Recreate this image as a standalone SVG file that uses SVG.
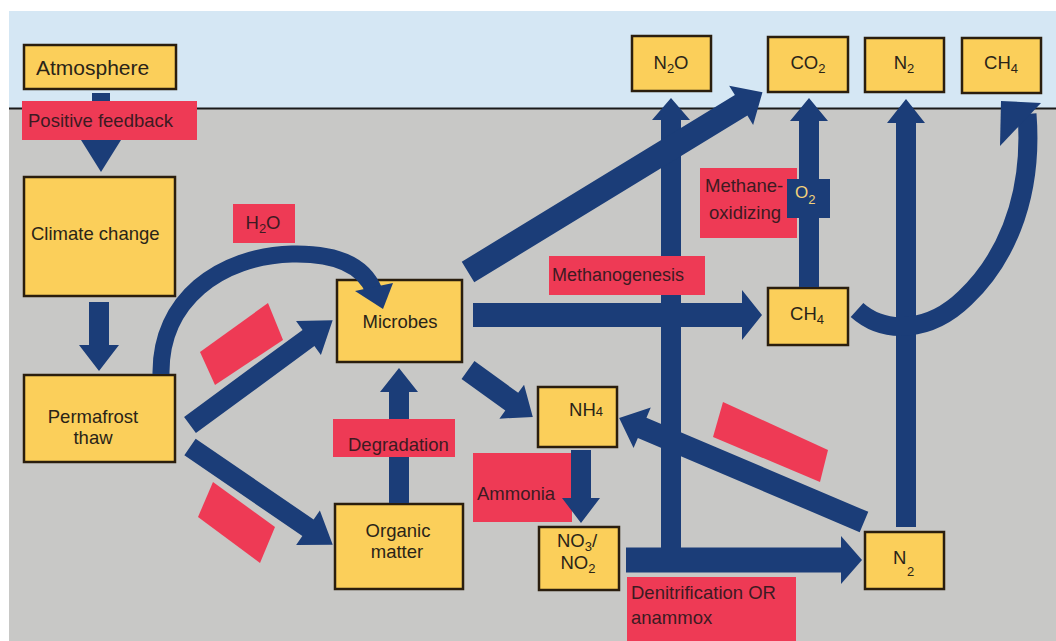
<svg xmlns="http://www.w3.org/2000/svg" width="1056" height="641" viewBox="0 0 1056 641">
<style>
.box{fill:#fbcf5a;stroke:#2a1e0e;stroke-width:2.5}
.red{fill:#ee3a55}
.arr{fill:#1b3d78}
.arc{fill:none;stroke:#1b3d78}
.t{font-family:"Liberation Sans",Arial,sans-serif;font-size:18.5px;fill:#2a2418}
.rt{font-family:"Liberation Sans",Arial,sans-serif;font-size:18.5px;fill:#3d1a22}
.c{text-anchor:middle}
.sub{font-size:13px}
</style>
<rect x="0" y="0" width="1056" height="641" fill="#ffffff"/>
<rect x="9" y="11" width="1047" height="98" fill="#d5e7f4"/>
<rect x="9" y="108" width="1047" height="533" fill="#c8c8c6"/>
<line x1="9" y1="108.5" x2="1056" y2="108.5" stroke="#1a1a1a" stroke-width="2"/>

<g id="labels-under">
<polygon class="red" points="200,352 268,303 283,340 215,385"/>
<polygon class="red" points="198,517 213,482 275,527 260,563"/>
<polygon class="red" points="723,402 828,450 820,482 713,437"/>
<g id="label-h2o"><rect class="red" x="233" y="204" width="62" height="39"/>
<text class="rt c" x="263" y="229">H<tspan class="sub" dy="4">2</tspan><tspan dy="-4">O</tspan></text></g>
<g id="label-methane-oxidizing"><rect class="red" x="700" y="168" width="97" height="70"/>
<text class="rt" x="705" y="192">Methane-</text><text class="rt" x="709" y="219">oxidizing</text></g>
<g id="label-ammonia"><rect class="red" x="473" y="453" width="99" height="69"/>
<text class="rt" x="477" y="500">Ammonia</text></g>
<g id="label-denitrification"><rect class="red" x="627" y="577" width="169" height="64"/>
<text class="rt" x="631" y="599">Denitrification OR</text><text class="rt" x="631" y="624">anammox</text></g>
</g>

<g id="node-atmosphere"><rect class="box" x="24" y="45" width="152" height="44"/>
<text class="t" x="36" y="75" style="font-size:21px">Atmosphere</text></g>
<g id="node-climate"><rect class="box" x="24" y="177" width="151" height="119"/>
<text class="t" x="31" y="240">Climate change</text></g>
<g id="node-permafrost"><rect class="box" x="24" y="375" width="151" height="87"/>
<text class="t c" x="93" y="423">Permafrost</text><text class="t c" x="93" y="444">thaw</text></g>
<g id="node-microbes"><rect class="box" x="337" y="280" width="125" height="82"/>
<text class="t c" x="400" y="328">Microbes</text></g>
<g id="node-organic"><rect class="box" x="335" y="504" width="128" height="85"/>
<text class="t c" x="398" y="537">Organic</text><text class="t c" x="397" y="558">matter</text></g>
<g id="node-nh4"><rect class="box" x="538" y="387" width="79" height="60"/>
<text class="t c" x="586" y="416">NH<tspan class="sub">4</tspan></text></g>
<g id="node-no3"><rect class="box" x="539" y="527" width="80" height="63"/>
<text class="t c" x="577" y="547">NO<tspan class="sub" dy="4">3</tspan><tspan dy="-4">/</tspan></text>
<text class="t c" x="578" y="569">NO<tspan class="sub" dy="4">2</tspan></text></g>
<g id="node-n2-bottom"><rect class="box" x="865" y="532" width="79" height="57"/>
<text class="t" x="893" y="564">N</text><text class="t sub" x="907" y="576">2</text></g>
<g id="node-ch4-mid"><rect class="box" x="768" y="288" width="80" height="57"/>
<text class="t c" x="807" y="320">CH<tspan class="sub" dy="4">4</tspan></text></g>
<g id="node-n2o"><rect class="box" x="632" y="36" width="79" height="55"/>
<text class="t c" x="671" y="69">N<tspan class="sub" dy="4">2</tspan><tspan dy="-4">O</tspan></text></g>
<g id="node-co2"><rect class="box" x="768" y="37" width="80" height="55"/>
<text class="t c" x="808" y="69">CO<tspan class="sub" dy="4">2</tspan></text></g>
<g id="node-n2-top"><rect class="box" x="865" y="38" width="79" height="54"/>
<text class="t c" x="904" y="69">N<tspan class="sub" dy="4">2</tspan></text></g>
<g id="node-ch4-top"><rect class="box" x="962" y="38" width="79" height="55"/>
<text class="t c" x="1001" y="69">CH<tspan class="sub" dy="4">4</tspan></text></g>

<g id="connectors">
<polygon class="arr" transform="translate(101,93) rotate(90)" points="0,-9 47,-9 47,-20 79,0 47,20 47,9 0,9"/>
<polygon class="arr" transform="translate(99,302) rotate(90)" points="0,-10 43,-10 43,-20 69,0 43,20 43,10 0,10"/>
<polygon class="arr" transform="translate(190,425) rotate(-36.3)" points="0,-10 147,-10 147,-21 177,0 147,21 147,10 0,10"/>
<polygon class="arr" transform="translate(190,447) rotate(34.4)" points="0,-10 143,-10 143,-21 173,0 143,21 143,10 0,10"/>
<polygon class="arr" transform="translate(399,503) rotate(-90)" points="0,-10 111,-10 111,-19 135,0 111,19 111,10 0,10"/>
<polygon class="arr" transform="translate(468,370) rotate(35.9)" points="0,-11 54,-11 54,-21 80,0 54,21 54,11 0,11"/>
<polygon class="arr" transform="translate(581,450) rotate(90)" points="0,-10 48,-10 48,-19 73,0 48,19 48,10 0,10"/>
<polygon class="arr" transform="translate(626,560)" points="0,-12.5 215,-12.5 215,-24 236,0 215,24 215,12.5 0,12.5"/>
<polygon class="arr" transform="translate(864,522) rotate(203)" points="0,-11 241,-11 241,-22 266,0 241,22 241,11 0,11"/>
<polygon class="arr" transform="translate(671,560) rotate(-90)" points="0,-10 440,-10 440,-19 462,0 440,19 440,10 0,10"/>
<polygon class="arr" transform="translate(468,272) rotate(-31.4)" points="0,-12 320,-12 320,-23 345,0 320,23 320,12 0,12"/>
<polygon class="arr" transform="translate(473,315)" points="0,-12 269,-12 269,-25 289,0 269,25 269,12 0,12"/>
<polygon class="arr" transform="translate(809,287) rotate(-90)" points="0,-10 166,-10 166,-19 189,0 166,19 166,10 0,10"/>
<polygon class="arr" transform="translate(906,527) rotate(-90)" points="0,-10 404,-10 404,-19 428,0 404,19 404,10 0,10"/>
<path class="arc" stroke-width="17" d="M 161 374 C 160 300 220 256 292 254 C 338 253 364 266 374 291"/>
<polygon class="arr" points="355,291 393,283 383,309"/>
<path class="arc" stroke-width="19" d="M 857 310 C 885 335 930 332 965 298 C 1000 265 1034 205 1027 114"/>
<polygon class="arr" points="1001,101 1000,146 1041,103"/>
</g>

<g id="labels-over">
<g id="label-positive-feedback"><rect class="red" x="22" y="101" width="175" height="39"/>
<text class="rt" x="28" y="127">Positive feedback</text></g>
<g id="label-degradation"><rect class="red" x="333" y="419" width="122" height="38"/>
<text class="rt" x="348" y="451">Degradation</text></g>
<g id="label-methanogenesis"><rect class="red" x="549" y="256" width="156" height="39"/>
<text class="rt" x="552" y="281" style="font-size:18px">Methanogenesis</text></g>
<g id="o2"><rect x="787" y="179" width="43" height="39" fill="#1b3d78"/>
<text x="795" y="198" style="font-family:'Liberation Sans',Arial,sans-serif;font-size:17px;fill:#f2d27a">O<tspan class="sub" dy="6">2</tspan></text></g>
</g>
</svg>
